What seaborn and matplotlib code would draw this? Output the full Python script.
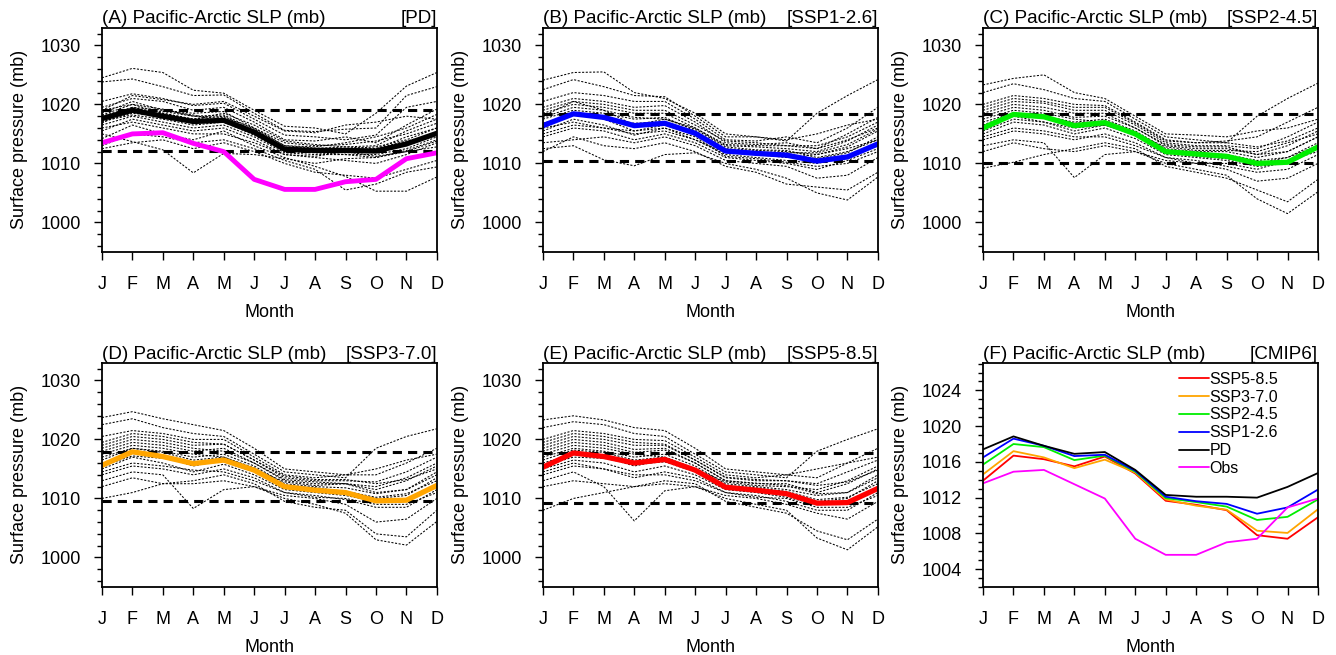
import numpy as np
import pandas as pd
import matplotlib
matplotlib.use("Agg")
import matplotlib.pyplot as plt
from matplotlib.ticker import MultipleLocator
import seaborn as sns

sns.set_style("ticks")
plt.rcParams['font.family'] = ['Liberation Sans', 'DejaVu Sans']
plt.rcParams['text.color'] = 'black'
plt.rcParams['axes.labelcolor'] = 'black'
plt.rcParams['xtick.color'] = 'black'
plt.rcParams['ytick.color'] = 'black'

months = list(range(1, 13))
month_labels = ['J', 'F', 'M', 'A', 'M', 'J', 'J', 'A', 'S', 'O', 'N', 'D']

# multi-model means shown in panels A-E
pd_mean = [1017.6, 1019.0, 1018.0, 1017.1, 1017.3, 1015.3, 1012.4, 1012.2, 1012.2, 1012.1, 1013.3, 1015.1]
ssp126_mean = [1016.4, 1018.4, 1017.8, 1016.4, 1016.8, 1015.1, 1012.1, 1011.7, 1011.4, 1010.4, 1011.1, 1013.3]
ssp245_mean = [1016.0, 1018.3, 1017.9, 1016.4, 1016.9, 1015.0, 1012.0, 1011.6, 1011.2, 1010.0, 1010.2, 1012.8]
ssp370_mean = [1015.6, 1017.9, 1017.1, 1015.9, 1016.5, 1014.8, 1012.0, 1011.4, 1011.0, 1009.6, 1009.7, 1012.2]
ssp585_mean = [1015.3, 1017.7, 1017.1, 1016.0, 1016.6, 1014.8, 1011.9, 1011.4, 1010.8, 1009.2, 1009.3, 1011.7]
obs = [1013.5, 1015.0, 1015.2, 1013.4, 1012.0, 1007.3, 1005.6, 1005.6, 1006.9, 1007.3, 1010.8, 1011.8]

# curves of panel F
f_pd = [1017.4, 1018.85, 1017.8, 1016.9, 1017.1, 1015.1, 1012.3, 1012.1, 1012.1, 1012.0, 1013.2, 1014.75]
f_ssp126 = [1016.5, 1018.6, 1017.8, 1016.65, 1016.8, 1015.0, 1012.1, 1011.6, 1011.3, 1010.2, 1010.9, 1012.9]
f_ssp245 = [1015.7, 1018.0, 1017.65, 1016.2, 1016.7, 1014.9, 1011.95, 1011.5, 1011.0, 1009.5, 1009.85, 1011.8]
f_ssp370 = [1014.6, 1017.2, 1016.5, 1015.3, 1016.25, 1014.8, 1011.8, 1011.1, 1010.65, 1008.3, 1008.05, 1010.7]
f_ssp585 = [1013.9, 1016.7, 1016.3, 1015.5, 1016.6, 1014.7, 1011.65, 1011.2, 1010.6, 1007.8, 1007.4, 1009.8]
f_obs = [1013.6, 1014.9, 1015.1, 1013.5, 1011.9, 1007.4, 1005.6, 1005.6, 1007.0, 1007.4, 1010.9, 1011.9]

# individual models (approximate reading of the spaghetti)
pd_members = [
    [1024.5, 1026.1, 1025.4, 1022.4, 1021.9, 1019.0, 1016.3, 1016.0, 1015.0, 1018.5, 1023.1, 1025.4],
    [1023.8, 1024.3, 1023.0, 1021.5, 1021.6, 1018.5, 1015.6, 1015.4, 1015.8, 1016.0, 1021.5, 1023.0],
    [1020.5, 1021.8, 1021.0, 1019.8, 1020.2, 1017.5, 1014.8, 1014.5, 1014.0, 1014.8, 1019.5, 1020.5],
    [1019.5, 1021.0, 1020.5, 1019.0, 1019.5, 1017.0, 1014.0, 1013.8, 1014.5, 1013.5, 1016.5, 1019.2],
    [1018.5, 1020.5, 1019.0, 1018.5, 1018.8, 1016.0, 1013.5, 1013.0, 1013.2, 1013.8, 1015.0, 1016.8],
    [1018.0, 1019.5, 1018.5, 1017.5, 1018.0, 1015.5, 1012.8, 1012.5, 1012.8, 1012.5, 1014.5, 1016.0],
    [1017.0, 1018.5, 1018.0, 1017.0, 1017.5, 1015.0, 1012.3, 1012.0, 1011.8, 1012.0, 1013.0, 1015.2],
    [1016.5, 1018.0, 1017.0, 1016.0, 1016.5, 1014.5, 1011.8, 1011.5, 1011.5, 1011.0, 1012.2, 1014.0],
    [1015.5, 1017.5, 1016.5, 1015.5, 1016.0, 1014.0, 1011.5, 1011.0, 1010.5, 1010.0, 1011.5, 1013.5],
    [1015.0, 1013.7, 1012.3, 1008.4, 1011.7, 1011.5, 1010.8, 1010.0, 1010.8, 1011.0, 1012.0, 1012.8],
    [1014.2, 1016.5, 1015.0, 1014.0, 1015.5, 1013.0, 1011.0, 1009.5, 1007.8, 1005.3, 1005.3, 1007.7],
    [1013.0, 1015.0, 1014.5, 1013.5, 1014.0, 1012.5, 1010.5, 1009.0, 1005.5, 1006.5, 1008.5, 1009.4],
    [1012.5, 1013.5, 1014.0, 1012.5, 1013.5, 1012.0, 1010.0, 1008.5, 1008.0, 1007.5, 1009.0, 1010.5],
    [1019.0, 1021.5, 1020.8, 1020.0, 1020.5, 1018.0, 1015.5, 1015.2, 1016.5, 1017.0, 1018.0, 1017.5],
    [1017.5, 1019.0, 1018.8, 1018.0, 1017.8, 1016.0, 1013.0, 1012.8, 1013.5, 1014.5, 1016.0, 1018.3],
    [1016.0, 1017.0, 1016.0, 1015.0, 1015.0, 1013.5, 1011.5, 1011.2, 1012.0, 1012.5, 1013.8, 1015.0],
    [1018.2, 1020.0, 1019.2, 1018.0, 1018.2, 1015.8, 1013.0, 1012.6, 1012.5, 1012.8, 1014.0, 1016.0],
    [1017.2, 1018.2, 1017.5, 1016.5, 1017.0, 1014.8, 1012.0, 1011.8, 1011.5, 1011.5, 1012.5, 1014.5],
    [1016.8, 1019.5, 1019.0, 1018.2, 1017.0, 1015.2, 1012.6, 1012.4, 1012.0, 1011.2, 1012.0, 1013.8],
    [1019.0, 1020.0, 1018.5, 1017.5, 1018.5, 1016.5, 1013.8, 1013.2, 1012.8, 1013.0, 1015.5, 1017.5],
]
ssp126_members = [
    [1024.1, 1025.4, 1025.5, 1022.0, 1021.0, 1018.5, 1015.0, 1014.5, 1014.0, 1015.0, 1016.5, 1017.5],
    [1022.5, 1024.2, 1023.0, 1021.5, 1021.3, 1018.0, 1014.5, 1014.5, 1013.8, 1018.5, 1021.5, 1024.2],
    [1020.5, 1022.0, 1021.5, 1020.5, 1020.5, 1017.5, 1014.0, 1013.8, 1014.5, 1013.5, 1016.0, 1019.5],
    [1019.5, 1021.0, 1020.5, 1019.5, 1019.8, 1017.0, 1013.5, 1013.2, 1013.5, 1012.5, 1015.0, 1017.8],
    [1018.5, 1020.0, 1019.5, 1018.5, 1018.5, 1016.0, 1013.0, 1012.8, 1012.5, 1012.0, 1013.8, 1016.5],
    [1017.5, 1019.0, 1018.5, 1017.5, 1017.8, 1015.5, 1012.5, 1012.2, 1012.0, 1011.5, 1012.8, 1015.5],
    [1016.5, 1018.5, 1017.5, 1015.5, 1016.5, 1014.8, 1012.0, 1011.8, 1011.5, 1010.8, 1011.8, 1014.5],
    [1015.5, 1017.5, 1016.5, 1014.8, 1016.0, 1014.0, 1011.5, 1011.0, 1010.5, 1010.0, 1011.0, 1013.5],
    [1014.5, 1016.0, 1015.5, 1014.0, 1015.0, 1013.5, 1011.0, 1010.5, 1010.0, 1009.0, 1010.5, 1012.5],
    [1013.5, 1014.0, 1014.5, 1013.5, 1014.5, 1013.0, 1010.5, 1010.0, 1009.5, 1007.5, 1008.0, 1011.0],
    [1012.5, 1013.0, 1010.6, 1009.6, 1011.5, 1011.8, 1010.0, 1009.0, 1007.5, 1005.0, 1003.8, 1007.7],
    [1012.0, 1014.5, 1013.0, 1012.5, 1013.5, 1012.0, 1009.5, 1008.5, 1006.5, 1006.0, 1005.5, 1008.5],
    [1018.0, 1020.5, 1019.0, 1016.5, 1017.5, 1016.0, 1013.2, 1013.0, 1013.0, 1012.5, 1014.0, 1016.0],
    [1016.0, 1017.0, 1016.0, 1015.0, 1015.5, 1014.0, 1011.8, 1011.5, 1011.0, 1011.5, 1012.5, 1014.0],
    [1017.8, 1019.5, 1019.0, 1017.8, 1017.5, 1015.8, 1012.8, 1012.3, 1012.2, 1011.0, 1012.0, 1014.0],
    [1016.8, 1018.2, 1017.8, 1016.8, 1017.0, 1015.0, 1012.2, 1011.9, 1011.8, 1011.8, 1013.2, 1015.8],
    [1015.0, 1016.5, 1016.0, 1015.5, 1016.0, 1014.5, 1011.2, 1010.8, 1010.2, 1009.5, 1010.0, 1012.0],
    [1019.0, 1020.5, 1020.0, 1019.0, 1019.0, 1016.5, 1013.8, 1013.5, 1013.0, 1013.0, 1014.5, 1017.0],
]
ssp245_members = [
    [1023.3, 1024.4, 1025.0, 1022.0, 1021.0, 1018.0, 1015.0, 1014.8, 1014.5, 1015.5, 1016.0, 1017.5],
    [1022.0, 1023.5, 1022.5, 1021.0, 1020.5, 1017.5, 1014.5, 1014.0, 1013.5, 1018.0, 1021.0, 1023.6],
    [1020.0, 1021.5, 1021.0, 1020.0, 1019.8, 1017.0, 1014.0, 1013.5, 1013.8, 1014.5, 1017.0, 1019.5],
    [1019.0, 1020.5, 1020.2, 1019.0, 1019.0, 1016.5, 1013.5, 1013.0, 1013.0, 1012.5, 1014.5, 1017.0],
    [1018.0, 1019.5, 1019.0, 1017.8, 1018.0, 1016.0, 1013.0, 1012.5, 1012.5, 1011.5, 1013.0, 1015.5],
    [1017.0, 1018.5, 1018.0, 1017.0, 1017.5, 1015.5, 1012.5, 1012.0, 1012.0, 1011.0, 1012.0, 1014.5],
    [1016.0, 1018.0, 1017.0, 1015.5, 1016.5, 1014.8, 1012.0, 1011.5, 1011.2, 1010.0, 1011.0, 1013.5],
    [1015.0, 1017.0, 1016.5, 1015.0, 1016.0, 1014.2, 1011.5, 1011.0, 1010.5, 1009.5, 1010.0, 1012.5],
    [1014.0, 1015.5, 1015.0, 1014.0, 1015.0, 1013.5, 1011.0, 1010.5, 1009.5, 1008.5, 1009.0, 1011.5],
    [1013.0, 1014.0, 1013.5, 1007.6, 1011.5, 1012.0, 1010.5, 1010.0, 1009.0, 1007.0, 1007.5, 1010.0],
    [1012.0, 1013.5, 1012.5, 1012.0, 1013.0, 1012.0, 1010.0, 1009.0, 1008.0, 1004.0, 1001.5, 1005.2],
    [1009.2, 1010.2, 1011.5, 1012.5, 1013.5, 1012.5, 1009.5, 1008.5, 1007.5, 1005.5, 1003.5, 1007.3],
    [1014.5, 1016.0, 1015.5, 1014.5, 1014.5, 1013.0, 1011.0, 1010.0, 1010.0, 1009.0, 1010.5, 1012.0],
    [1017.5, 1019.0, 1018.5, 1017.5, 1017.0, 1015.0, 1012.8, 1012.2, 1012.2, 1012.0, 1013.5, 1015.0],
    [1018.5, 1020.0, 1019.5, 1018.5, 1018.5, 1016.0, 1013.2, 1012.8, 1012.8, 1011.5, 1012.0, 1014.5],
    [1016.5, 1018.5, 1018.0, 1016.8, 1017.2, 1015.2, 1012.2, 1011.8, 1011.5, 1010.5, 1011.0, 1013.0],
    [1015.5, 1017.5, 1017.0, 1016.0, 1016.5, 1014.8, 1011.8, 1011.2, 1010.8, 1009.8, 1010.5, 1012.8],
    [1019.5, 1021.0, 1020.5, 1019.5, 1019.5, 1016.8, 1013.8, 1013.5, 1013.5, 1012.8, 1013.8, 1016.0],
]
ssp370_members = [
    [1023.7, 1024.7, 1023.5, 1022.5, 1021.5, 1018.5, 1015.0, 1014.5, 1014.0, 1015.0, 1016.5, 1017.5],
    [1022.5, 1023.5, 1022.0, 1021.0, 1020.5, 1017.5, 1014.5, 1014.0, 1013.5, 1018.5, 1020.5, 1021.8],
    [1020.5, 1021.5, 1021.0, 1020.0, 1020.0, 1017.0, 1014.0, 1013.5, 1014.0, 1014.0, 1016.0, 1018.5],
    [1019.0, 1020.5, 1020.0, 1019.0, 1019.2, 1016.5, 1013.5, 1013.0, 1013.0, 1012.8, 1014.5, 1017.0],
    [1018.0, 1019.5, 1019.0, 1018.0, 1018.5, 1016.0, 1013.0, 1012.5, 1012.5, 1011.5, 1013.0, 1015.5],
    [1017.0, 1018.5, 1018.0, 1017.0, 1017.5, 1015.5, 1012.5, 1012.0, 1011.8, 1010.8, 1011.5, 1014.5],
    [1016.0, 1017.8, 1017.0, 1015.5, 1016.5, 1014.8, 1012.0, 1011.5, 1011.0, 1010.0, 1010.5, 1013.5],
    [1015.0, 1017.0, 1016.0, 1014.5, 1015.8, 1014.0, 1011.5, 1011.0, 1010.5, 1009.5, 1009.5, 1012.5],
    [1014.0, 1015.5, 1015.0, 1014.0, 1015.0, 1013.5, 1011.0, 1010.5, 1009.8, 1008.5, 1008.5, 1011.5],
    [1013.0, 1014.5, 1014.0, 1008.3, 1011.5, 1012.0, 1010.5, 1010.0, 1009.0, 1006.0, 1006.5, 1010.0],
    [1012.0, 1013.5, 1012.5, 1012.5, 1013.0, 1012.0, 1010.0, 1009.0, 1007.5, 1003.0, 1002.1, 1006.1],
    [1010.0, 1011.0, 1012.5, 1013.0, 1014.0, 1012.5, 1009.5, 1008.5, 1008.0, 1004.0, 1003.5, 1008.0],
    [1014.5, 1016.0, 1015.5, 1014.8, 1014.5, 1013.0, 1011.0, 1010.2, 1010.0, 1009.0, 1009.0, 1011.0],
    [1017.5, 1019.0, 1018.5, 1017.5, 1017.0, 1015.0, 1012.8, 1012.2, 1012.5, 1012.0, 1013.5, 1016.0],
    [1018.5, 1020.0, 1019.5, 1018.5, 1018.0, 1016.0, 1013.2, 1012.8, 1012.5, 1011.0, 1011.5, 1014.0],
    [1016.5, 1018.5, 1017.8, 1016.5, 1017.0, 1015.2, 1012.2, 1011.8, 1011.2, 1010.2, 1010.8, 1013.0],
    [1015.5, 1017.2, 1016.8, 1015.8, 1016.2, 1014.5, 1011.8, 1011.2, 1010.8, 1009.5, 1009.8, 1012.0],
    [1019.5, 1021.0, 1020.5, 1019.5, 1019.2, 1016.5, 1013.8, 1013.2, 1013.2, 1012.5, 1013.2, 1015.0],
]
ssp585_members = [
    [1023.3, 1024.0, 1023.3, 1022.0, 1021.5, 1018.5, 1015.0, 1014.5, 1014.0, 1015.0, 1016.0, 1017.0],
    [1022.0, 1023.0, 1022.5, 1021.0, 1020.5, 1017.5, 1014.5, 1014.0, 1013.5, 1018.0, 1020.0, 1021.8],
    [1020.0, 1021.5, 1021.0, 1020.0, 1019.8, 1017.0, 1014.0, 1013.5, 1014.0, 1013.5, 1016.0, 1018.5],
    [1019.0, 1020.5, 1020.0, 1019.0, 1019.0, 1016.5, 1013.5, 1013.0, 1013.0, 1012.5, 1014.5, 1016.5],
    [1018.0, 1019.5, 1019.0, 1017.8, 1018.2, 1016.0, 1013.0, 1012.5, 1012.5, 1011.0, 1012.5, 1015.0],
    [1017.0, 1018.5, 1018.0, 1017.0, 1017.5, 1015.5, 1012.5, 1012.0, 1011.5, 1010.5, 1011.0, 1014.0],
    [1016.0, 1017.5, 1017.0, 1015.5, 1016.5, 1014.8, 1012.0, 1011.5, 1011.0, 1009.5, 1010.0, 1013.0],
    [1015.0, 1016.5, 1016.0, 1014.5, 1015.5, 1014.0, 1011.5, 1011.0, 1010.2, 1009.0, 1009.0, 1012.0],
    [1014.0, 1015.5, 1015.0, 1013.5, 1014.5, 1013.5, 1011.0, 1010.5, 1009.5, 1008.0, 1008.0, 1011.0],
    [1013.0, 1014.5, 1012.0, 1006.2, 1011.3, 1012.0, 1010.5, 1010.0, 1009.0, 1007.5, 1006.5, 1009.5],
    [1012.0, 1013.0, 1012.5, 1012.0, 1012.5, 1012.0, 1010.0, 1009.0, 1008.0, 1003.3, 1001.3, 1005.2],
    [1008.0, 1010.0, 1011.0, 1012.0, 1013.0, 1012.5, 1009.5, 1008.5, 1007.5, 1004.5, 1003.0, 1006.5],
    [1014.5, 1016.0, 1015.0, 1014.0, 1014.0, 1013.0, 1011.0, 1010.2, 1010.0, 1008.5, 1008.5, 1010.5],
    [1017.5, 1019.0, 1018.5, 1017.5, 1017.0, 1015.0, 1012.8, 1012.2, 1012.0, 1011.5, 1013.0, 1015.5],
    [1018.5, 1020.0, 1019.5, 1018.3, 1018.5, 1016.0, 1013.0, 1012.6, 1012.2, 1010.8, 1011.0, 1013.5],
    [1016.5, 1018.2, 1017.8, 1016.5, 1017.0, 1015.0, 1012.2, 1011.8, 1011.2, 1009.8, 1010.2, 1012.5],
    [1015.5, 1017.0, 1016.8, 1015.8, 1016.2, 1014.5, 1011.6, 1011.2, 1010.6, 1009.2, 1009.5, 1011.5],
    [1019.5, 1021.0, 1020.5, 1019.5, 1019.2, 1016.5, 1013.6, 1013.2, 1013.0, 1012.2, 1012.8, 1014.8],
]

panels = [
    ('(A)', 'PD', pd_members, pd_mean, 'black'),
    ('(B)', 'SSP1-2.6', ssp126_members, ssp126_mean, 'blue'),
    ('(C)', 'SSP2-4.5', ssp245_members, ssp245_mean, '#00ee00'),
    ('(D)', 'SSP3-7.0', ssp370_members, ssp370_mean, '#ffa500'),
    ('(E)', 'SSP5-8.5', ssp585_members, ssp585_mean, 'red'),
]

fig = plt.figure(figsize=(13.36, 6.55), dpi=100)
lefts = [0.0763, 0.4064, 0.7358]
bottoms = [0.6153, 0.1038]
w, h = 0.2507, 0.3425
axes = [fig.add_axes([lefts[i % 3], bottoms[i // 3], w, h]) for i in range(6)]


def style_axis(ax, ylim, major, minor):
    ax.set_xlim(1, 12)
    ax.set_ylim(*ylim)
    ax.set_xticks(months)
    ax.set_xticklabels(month_labels)
    ax.yaxis.set_major_locator(MultipleLocator(major))
    ax.yaxis.set_minor_locator(MultipleLocator(minor))
    ax.tick_params(axis='both', which='major', direction='out', length=6, width=1,
                   labelsize=13, colors='black')
    ax.tick_params(axis='x', pad=11)
    ax.tick_params(axis='y', pad=9)
    ax.tick_params(axis='y', which='minor', direction='out', length=3.5, width=1)
    ax.tick_params(top=False, right=False)
    for s in ax.spines.values():
        s.set_visible(True)
        s.set_linewidth(1.3)
        s.set_color('black')
    ax.set_xlabel('Month', fontsize=13, labelpad=8, color='black')
    ax.set_ylabel('Surface pressure (mb)', fontsize=13, labelpad=9, color='black')


for ax, (tag, name, members, mean, col) in zip(axes[:5], panels):
    long = pd.DataFrame([
        {'month': m, 'slp': v, 'member': k}
        for k, row in enumerate(members) for m, v in zip(months, row)
    ])
    sns.lineplot(data=long, x='month', y='slp', units='member', estimator=None,
                 color='black', lw=0.75, linestyle=(0, (2, 1.5)), ax=ax)
    ax.axhline(max(mean), color='black', lw=2.2, ls=(0, (3, 2)))
    ax.axhline(min(mean), color='black', lw=2.2, ls=(0, (3, 2)))
    if name == 'PD':
        sns.lineplot(x=months, y=obs, color='#ff00ff', lw=3.5, ax=ax)
    sns.lineplot(x=months, y=mean, color=col, lw=3.8, ax=ax)
    style_axis(ax, (995, 1033), 10, 2)
    ax.set_title(tag + ' Pacific-Arctic SLP (mb)', loc='left', fontsize=13.6, pad=3, color='black')
    ax.set_title('[' + name + ']', loc='right', fontsize=13.6, pad=3, color='black')

axf = axes[5]
f_series = [
    ('SSP5-8.5', f_ssp585, 'red'),
    ('SSP3-7.0', f_ssp370, '#ffa500'),
    ('SSP2-4.5', f_ssp245, '#00ee00'),
    ('SSP1-2.6', f_ssp126, 'blue'),
    ('PD', f_pd, 'black'),
    ('Obs', f_obs, '#ff00ff'),
]
for label, vals, col in f_series:
    sns.lineplot(x=months, y=vals, color=col, lw=1.3, label=label, ax=axf)
style_axis(axf, (1002, 1027.1), 4, 1)
axf.set_title('(F) Pacific-Arctic SLP (mb)', loc='left', fontsize=13.6, pad=3, color='black')
axf.set_title('[CMIP6]', loc='right', fontsize=13.6, pad=3, color='black')
axf.legend(loc='upper left', bbox_to_anchor=(0.585, 0.96), frameon=False,
           fontsize=11.5, handlelength=1.9, handletextpad=0.0, labelspacing=0.18,
           borderpad=0, borderaxespad=0)

fig.savefig('out.png', dpi=100)
